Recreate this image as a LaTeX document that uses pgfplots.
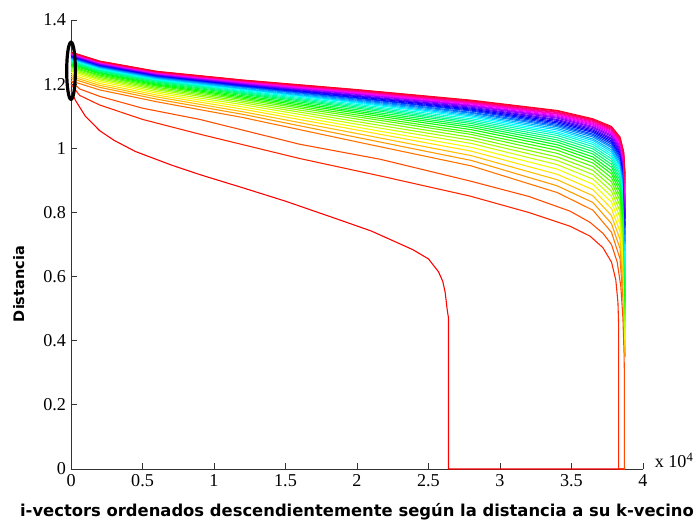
\documentclass[border=0pt]{standalone}
\usepackage{fontspec}
\setmainfont{Liberation Serif}
\newfontfamily\labelfont{DejaVu Sans}
\usepackage{pgfplots}
\pgfplotsset{compat=1.18}
\foreach \k in {1,...,40}{\pgfmathsetmacro\h{(\k-1)/40}\xglobal\definecolor{c\k}{hsb}{\h,1,1}}
\begin{document}
\begin{tikzpicture}
\begin{axis}[
  name=ax, scale only axis, width=394.5pt, height=309.7pt,
  xmin=0, xmax=4, ymin=0, ymax=1.4,
  axis x line=bottom, axis y line=left,
  axis line style={-, black!80, line width=0.6pt},
  tick align=inside, major tick length=4pt, tick style={black!80, line width=0.6pt},
  xtick={0,0.5,1,1.5,2,2.5,3,3.5,4},
  ytick={0,0.2,0.4,0.6,0.8,1,1.2,1.4},
  scaled x ticks=false, scaled y ticks=false,
  /pgf/number format/assume math mode=true,
  ticklabel style={font=\fontsize{12.5}{14}\selectfont},
  xlabel={i-vectors ordenados descendientemente según la distancia a su k-vecino},
  ylabel={Distancia},
  every axis x label/.style={at={(axis description cs:0.5,-0.0959)}, anchor=center, font=\labelfont\bfseries\fontsize{11.3}{13}\selectfont},
  every axis y label/.style={at={(axis description cs:-0.0913,0.412)}, rotate=90, anchor=center, font=\labelfont\bfseries\fontsize{10}{12}\selectfont},
  clip=false, no markers,
  every axis plot/.append style={line width=0.75pt},
]
% k = 1
\addplot[c1] coordinates {(0,1.18)(0.03,1.15)(0.1,1.10)(0.2,1.055)(0.3,1.025)(0.45,0.99)(0.7,0.948)(0.9,0.918)(1.2,0.877)(1.5,0.835)(1.87,0.778)(2.1,0.742)(2.39,0.684)(2.5,0.655)(2.57,0.615)(2.6,0.585)(2.617,0.55)(2.63,0.50)(2.64,0.47)(2.64,0)(3.875,0)};
% k = 2
\addplot[c2] coordinates {(0,1.20)(0.06,1.165)(0.2,1.135)(0.5,1.09)(0.9,1.044)(1.6,0.968)(2.16,0.914)(2.79,0.851)(3.2,0.80)(3.49,0.757)(3.63,0.726)(3.72,0.69)(3.78,0.645)(3.81,0.59)(3.825,0.52)(3.83,0.45)(3.83,0)(3.875,0)};
% k = 3
\addplot[c3] coordinates {(0,1.21)(0.06,1.185)(0.2,1.162)(0.5,1.125)(0.9,1.09)(1.6,1.0125)(2.16,0.966)(2.79,0.898)(3.2,0.85)(3.49,0.804)(3.63,0.769)(3.72,0.735)(3.78,0.70)(3.82,0.645)(3.845,0.57)(3.86,0.47)(3.868,0.36)(3.87,0.3)(3.87,0)(3.875,0)};
% k = 4 ... 40
\addplot[c4] coordinates {(0,1.210)(0.2,1.182)(0.6,1.145)(1.2,1.096)(2.0,1.020)(2.8,0.945)(3.4,0.862)(3.65,0.807)(3.78,0.738)(3.84,0.655)(3.865,0.500)(3.875,0.35)};
\addplot[c5] coordinates {(0,1.218)(0.2,1.190)(0.6,1.153)(1.2,1.106)(2.0,1.034)(2.8,0.962)(3.4,0.883)(3.65,0.831)(3.78,0.765)(3.84,0.687)(3.865,0.541)(3.875,0.35)};
\addplot[c6] coordinates {(0,1.224)(0.2,1.196)(0.6,1.160)(1.2,1.114)(2.0,1.046)(2.8,0.977)(3.4,0.902)(3.65,0.852)(3.78,0.790)(3.84,0.715)(3.865,0.577)(3.875,0.36)};
\addplot[c7] coordinates {(0,1.230)(0.2,1.202)(0.6,1.166)(1.2,1.122)(2.0,1.057)(2.8,0.991)(3.4,0.919)(3.65,0.871)(3.78,0.812)(3.84,0.740)(3.865,0.610)(3.875,0.38)};
\addplot[c8] coordinates {(0,1.236)(0.2,1.208)(0.6,1.172)(1.2,1.129)(2.0,1.066)(2.8,1.003)(3.4,0.935)(3.65,0.888)(3.78,0.832)(3.84,0.763)(3.865,0.639)(3.875,0.40)};
\addplot[c9] coordinates {(0,1.241)(0.2,1.213)(0.6,1.177)(1.2,1.136)(2.0,1.075)(2.8,1.015)(3.4,0.949)(3.65,0.904)(3.78,0.850)(3.84,0.784)(3.865,0.666)(3.875,0.42)};
\addplot[c10] coordinates {(0,1.245)(0.2,1.217)(0.6,1.182)(1.2,1.142)(2.0,1.083)(2.8,1.025)(3.4,0.962)(3.65,0.918)(3.78,0.866)(3.84,0.803)(3.865,0.691)(3.875,0.44)};
\addplot[c11] coordinates {(0,1.249)(0.2,1.221)(0.6,1.186)(1.2,1.147)(2.0,1.091)(2.8,1.034)(3.4,0.973)(3.65,0.931)(3.78,0.881)(3.84,0.820)(3.865,0.713)(3.875,0.46)};
\addplot[c12] coordinates {(0,1.253)(0.2,1.225)(0.6,1.190)(1.2,1.152)(2.0,1.098)(2.8,1.043)(3.4,0.984)(3.65,0.943)(3.78,0.895)(3.84,0.836)(3.865,0.733)(3.875,0.48)};
\addplot[c13] coordinates {(0,1.256)(0.2,1.228)(0.6,1.194)(1.2,1.156)(2.0,1.104)(2.8,1.050)(3.4,0.994)(3.65,0.954)(3.78,0.908)(3.84,0.850)(3.865,0.752)(3.875,0.50)};
\addplot[c14] coordinates {(0,1.260)(0.2,1.232)(0.6,1.197)(1.2,1.160)(2.0,1.110)(2.8,1.058)(3.4,1.003)(3.65,0.964)(3.78,0.920)(3.84,0.864)(3.865,0.770)(3.875,0.52)};
\addplot[c15] coordinates {(0,1.263)(0.2,1.235)(0.6,1.200)(1.2,1.164)(2.0,1.115)(2.8,1.065)(3.4,1.011)(3.65,0.973)(3.78,0.930)(3.84,0.877)(3.865,0.786)(3.875,0.54)};
\addplot[c16] coordinates {(0,1.265)(0.2,1.237)(0.6,1.203)(1.2,1.168)(2.0,1.120)(2.8,1.071)(3.4,1.019)(3.65,0.982)(3.78,0.941)(3.84,0.888)(3.865,0.801)(3.875,0.57)};
\addplot[c17] coordinates {(0,1.268)(0.2,1.240)(0.6,1.206)(1.2,1.171)(2.0,1.125)(2.8,1.077)(3.4,1.026)(3.65,0.990)(3.78,0.950)(3.84,0.899)(3.865,0.815)(3.875,0.59)};
\addplot[c18] coordinates {(0,1.270)(0.2,1.242)(0.6,1.209)(1.2,1.174)(2.0,1.129)(2.8,1.082)(3.4,1.033)(3.65,0.998)(3.78,0.959)(3.84,0.909)(3.865,0.828)(3.875,0.61)};
\addplot[c19] coordinates {(0,1.272)(0.2,1.244)(0.6,1.211)(1.2,1.177)(2.0,1.133)(2.8,1.087)(3.4,1.040)(3.65,1.005)(3.78,0.967)(3.84,0.919)(3.865,0.840)(3.875,0.63)};
\addplot[c20] coordinates {(0,1.275)(0.2,1.247)(0.6,1.213)(1.2,1.180)(2.0,1.137)(2.8,1.092)(3.4,1.046)(3.65,1.012)(3.78,0.975)(3.84,0.928)(3.865,0.852)(3.875,0.64)};
\addplot[c21] coordinates {(0,1.277)(0.2,1.249)(0.6,1.215)(1.2,1.183)(2.0,1.141)(2.8,1.097)(3.4,1.051)(3.65,1.018)(3.78,0.982)(3.84,0.936)(3.865,0.863)(3.875,0.66)};
\addplot[c22] coordinates {(0,1.279)(0.2,1.251)(0.6,1.217)(1.2,1.185)(2.0,1.144)(2.8,1.101)(3.4,1.057)(3.65,1.024)(3.78,0.989)(3.84,0.944)(3.865,0.873)(3.875,0.68)};
\addplot[c23] coordinates {(0,1.280)(0.2,1.252)(0.6,1.219)(1.2,1.187)(2.0,1.147)(2.8,1.105)(3.4,1.062)(3.65,1.029)(3.78,0.995)(3.84,0.951)(3.865,0.882)(3.875,0.70)};
\addplot[c24] coordinates {(0,1.282)(0.2,1.254)(0.6,1.221)(1.2,1.190)(2.0,1.150)(2.8,1.109)(3.4,1.067)(3.65,1.035)(3.78,1.002)(3.84,0.959)(3.865,0.892)(3.875,0.71)};
\addplot[c25] coordinates {(0,1.283)(0.2,1.255)(0.6,1.223)(1.2,1.192)(2.0,1.153)(2.8,1.112)(3.4,1.071)(3.65,1.040)(3.78,1.007)(3.84,0.965)(3.865,0.900)(3.875,0.73)};
\addplot[c26] coordinates {(0,1.285)(0.2,1.257)(0.6,1.224)(1.2,1.194)(2.0,1.156)(2.8,1.116)(3.4,1.075)(3.65,1.044)(3.78,1.013)(3.84,0.972)(3.865,0.908)(3.875,0.75)};
\addplot[c27] coordinates {(0,1.286)(0.2,1.258)(0.6,1.226)(1.2,1.195)(2.0,1.158)(2.8,1.119)(3.4,1.079)(3.65,1.049)(3.78,1.018)(3.84,0.978)(3.865,0.916)(3.875,0.76)};
\addplot[c28] coordinates {(0,1.288)(0.2,1.260)(0.6,1.227)(1.2,1.197)(2.0,1.161)(2.8,1.122)(3.4,1.083)(3.65,1.053)(3.78,1.023)(3.84,0.983)(3.865,0.923)(3.875,0.78)};
\addplot[c29] coordinates {(0,1.289)(0.2,1.261)(0.6,1.228)(1.2,1.199)(2.0,1.163)(2.8,1.125)(3.4,1.087)(3.65,1.057)(3.78,1.028)(3.84,0.989)(3.865,0.930)(3.875,0.79)};
\addplot[c30] coordinates {(0,1.290)(0.2,1.262)(0.6,1.230)(1.2,1.200)(2.0,1.165)(2.8,1.128)(3.4,1.090)(3.65,1.061)(3.78,1.032)(3.84,0.994)(3.865,0.937)(3.875,0.80)};
\addplot[c31] coordinates {(0,1.291)(0.2,1.263)(0.6,1.231)(1.2,1.202)(2.0,1.168)(2.8,1.131)(3.4,1.094)(3.65,1.065)(3.78,1.037)(3.84,0.999)(3.865,0.943)(3.875,0.82)};
\addplot[c32] coordinates {(0,1.293)(0.2,1.265)(0.6,1.232)(1.2,1.203)(2.0,1.170)(2.8,1.133)(3.4,1.097)(3.65,1.068)(3.78,1.041)(3.84,1.004)(3.865,0.949)(3.875,0.83)};
\addplot[c33] coordinates {(0,1.294)(0.2,1.266)(0.6,1.233)(1.2,1.205)(2.0,1.171)(2.8,1.135)(3.4,1.100)(3.65,1.072)(3.78,1.045)(3.84,1.008)(3.865,0.955)(3.875,0.84)};
\addplot[c34] coordinates {(0,1.295)(0.2,1.267)(0.6,1.234)(1.2,1.206)(2.0,1.173)(2.8,1.138)(3.4,1.103)(3.65,1.075)(3.78,1.049)(3.84,1.013)(3.865,0.961)(3.875,0.85)};
\addplot[c35] coordinates {(0,1.296)(0.2,1.268)(0.6,1.235)(1.2,1.207)(2.0,1.175)(2.8,1.140)(3.4,1.106)(3.65,1.078)(3.78,1.052)(3.84,1.016)(3.865,0.966)(3.875,0.87)};
\addplot[c36] coordinates {(0,1.297)(0.2,1.269)(0.6,1.236)(1.2,1.209)(2.0,1.177)(2.8,1.142)(3.4,1.108)(3.65,1.081)(3.78,1.056)(3.84,1.021)(3.865,0.971)(3.875,0.88)};
\addplot[c37] coordinates {(0,1.298)(0.2,1.270)(0.6,1.237)(1.2,1.210)(2.0,1.178)(2.8,1.144)(3.4,1.111)(3.65,1.084)(3.78,1.059)(3.84,1.024)(3.865,0.976)(3.875,0.89)};
\addplot[c38] coordinates {(0,1.298)(0.2,1.270)(0.6,1.238)(1.2,1.211)(2.0,1.180)(2.8,1.146)(3.4,1.113)(3.65,1.087)(3.78,1.062)(3.84,1.028)(3.865,0.981)(3.875,0.90)};
\addplot[c39] coordinates {(0,1.299)(0.2,1.271)(0.6,1.239)(1.2,1.212)(2.0,1.182)(2.8,1.148)(3.4,1.116)(3.65,1.089)(3.78,1.065)(3.84,1.032)(3.865,0.986)(3.875,0.91)};
\addplot[c40] coordinates {(0,1.300)(0.2,1.272)(0.6,1.240)(1.2,1.213)(2.0,1.183)(2.8,1.150)(3.4,1.118)(3.65,1.092)(3.78,1.068)(3.84,1.035)(3.865,0.990)(3.875,0.92)};
% highlight ellipse
\draw[black, line width=2.2pt] (axis cs:0,1.2416) ellipse [x radius=3pt, y radius=19.7pt];
\node[anchor=base west, inner sep=0pt, font=\fontsize{12.5}{14}\selectfont] at (rel axis cs:1,0) [xshift=8pt, yshift=1pt] {x 10\textsuperscript{4}};
\end{axis}
\pgfresetboundingbox
\path[use as bounding box] ([xshift=-49pt,yshift=-40pt]ax.south west) rectangle ([xshift=36.6pt,yshift=13.8pt]ax.north east);
\end{tikzpicture}
\end{document}
